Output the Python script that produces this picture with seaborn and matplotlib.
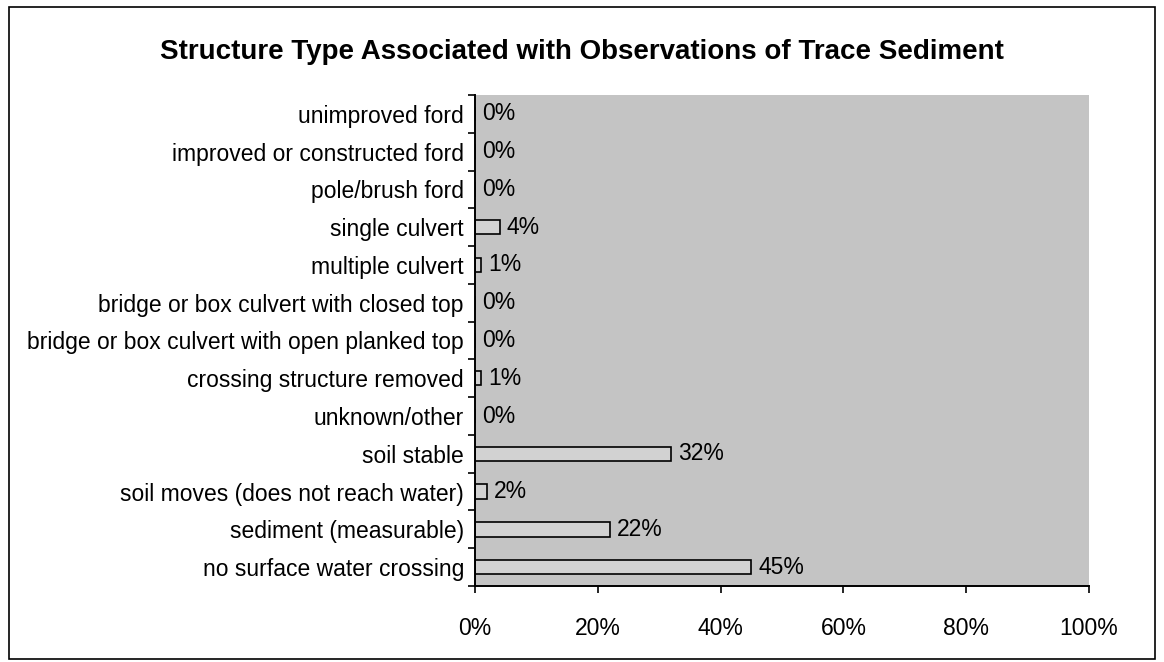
import numpy as np
import pandas as pd
import matplotlib
matplotlib.use("Agg")
import matplotlib.pyplot as plt
import seaborn as sns

categories = ["unimproved ford", "improved or constructed ford", "pole/brush ford",
              "single culvert", "multiple culvert", "bridge or box culvert with closed top",
              "bridge or box culvert with open planked top", "crossing structure removed",
              "unknown/other", "soil stable", "soil moves (does not reach water)",
              "sediment (measurable)", "no surface water crossing"]
shares = [0, 0, 0, 4, 1, 0, 0, 1, 0, 32, 2, 22, 45]
xticks = [0, 20, 40, 60, 80, 100]

df = pd.DataFrame({"structure": categories, "share": shares})

sns.set_style("ticks")
plt.rcParams['font.family'] = ['Liberation Sans', 'DejaVu Sans']
plt.rcParams['text.color'] = 'black'
plt.rcParams['xtick.color'] = 'black'
plt.rcParams['ytick.color'] = 'black'
plt.rcParams['axes.edgecolor'] = 'black'

fs = 16.5

fig = plt.figure(figsize=(11.64, 6.62), dpi=100)
ax = fig.add_axes([475/1164, 1-586/662, 614/1164, 491/662])
ax.set_facecolor("#c4c4c4")

sns.barplot(data=df, y="structure", x="share", orient="h", ax=ax,
            color="#d2d2d2", edgecolor="black", linewidth=1.2, width=0.38,
            saturation=1)

ax.bar_label(ax.containers[0], labels=[f"{v}%" for v in shares],
             padding=5, fontsize=fs, color="black")

ax.set_xlim(0, 100)
ax.set_ylim(len(categories) - 0.5, -0.5)
ax.set_xticks(xticks)
ax.set_xticklabels([f"{t}%" for t in xticks], fontsize=fs)
ax.set_yticks(np.arange(len(categories)))
ax.set_yticklabels(categories, fontsize=fs)
ax.tick_params(axis="y", length=0, pad=8)
ax.set_yticks(np.arange(len(categories) + 1) - 0.5, minor=True)
ax.tick_params(axis="y", which="minor", length=5, width=1.2, direction="out")
ax.tick_params(axis="x", length=5, width=1.2, direction="out", pad=17)
ax.set_xlabel("")
ax.set_ylabel("")

for s in ["top", "right"]:
    ax.spines[s].set_visible(False)
for s in ["left", "bottom"]:
    ax.spines[s].set_linewidth(1.4)

fig.text(0.5, 1 - 52/662, "Structure Type Associated with Observations of Trace Sediment",
         ha="center", va="center", fontsize=20, fontweight="bold")

fig.add_artist(plt.Rectangle((0.008, 0.004), 0.984, 0.985, transform=fig.transFigure,
                             fill=False, edgecolor="black", linewidth=1.2))

fig.savefig("out.png", dpi=100)
